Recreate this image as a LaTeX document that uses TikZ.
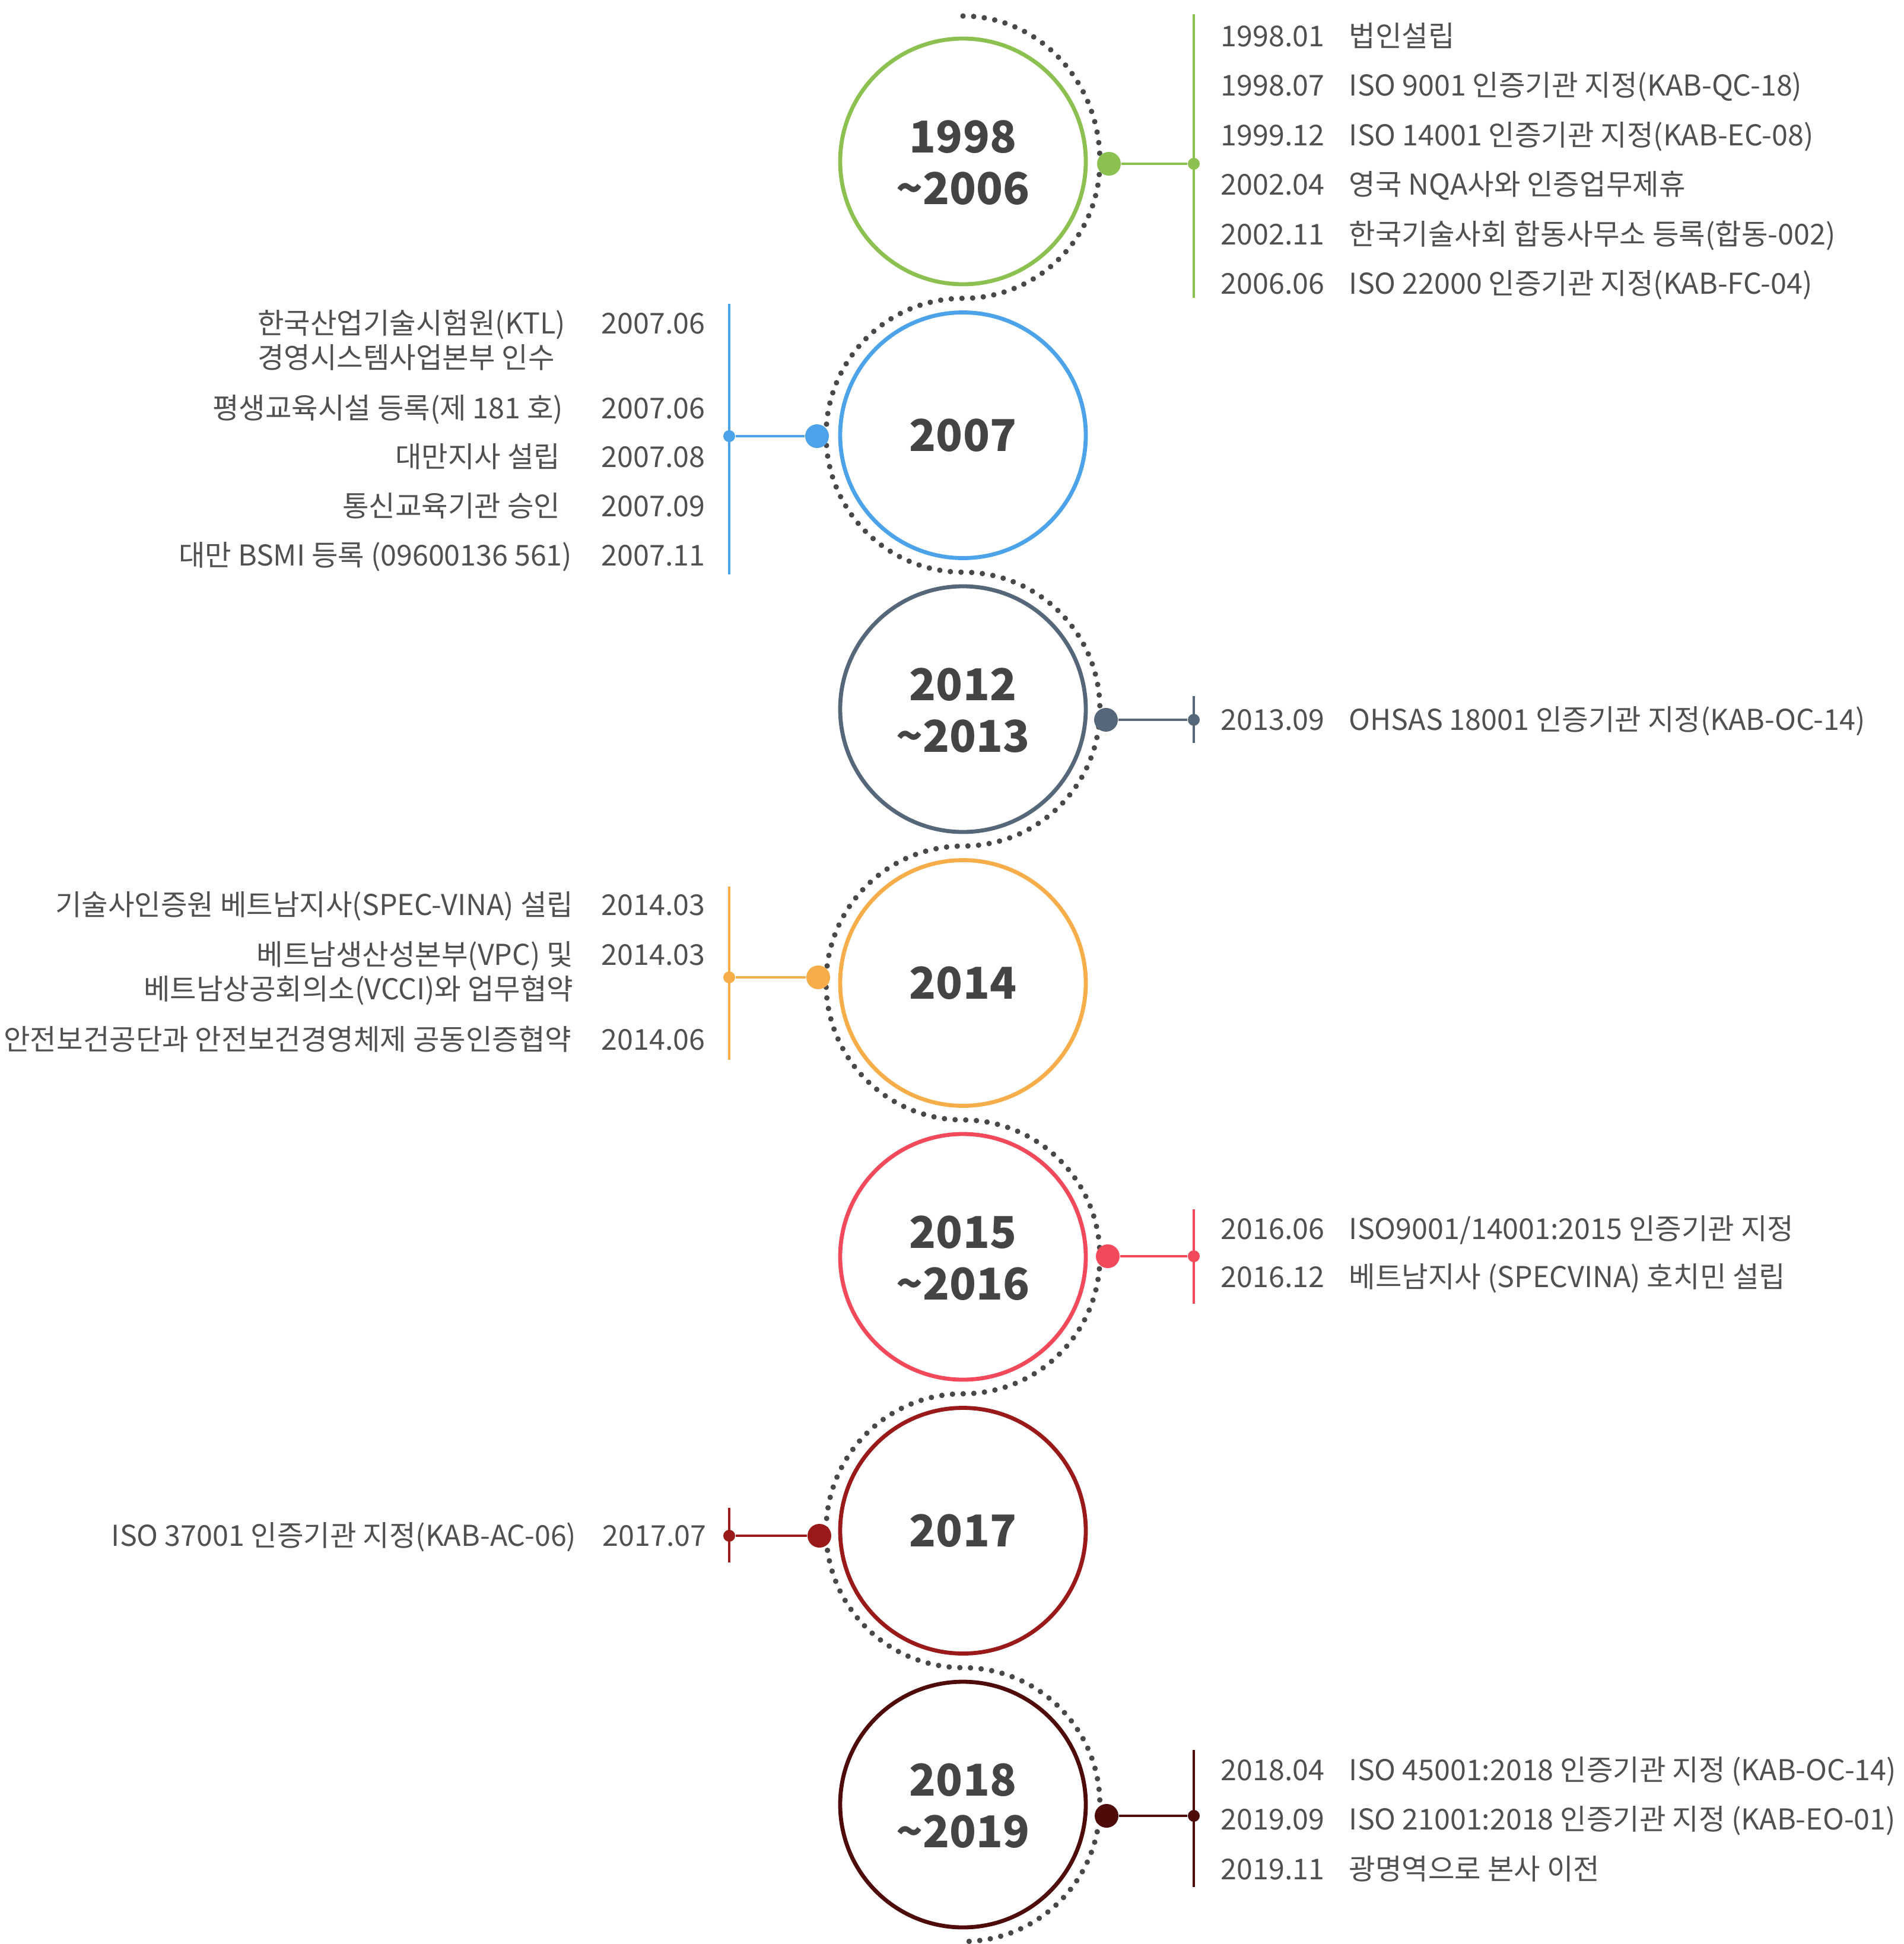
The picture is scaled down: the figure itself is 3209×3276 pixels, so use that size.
\documentclass[tikz,border=0pt]{standalone}
\usepackage{fontspec}
\setmainfont{Noto Sans CJK KR}
\definecolor{cA}{HTML}{8CC152}
\definecolor{cB}{HTML}{4DA3EA}
\definecolor{cC}{HTML}{56677A}
\definecolor{cD}{HTML}{F6AD4A}
\definecolor{cE}{HTML}{F2495B}
\definecolor{cF}{HTML}{9A1A1A}
\definecolor{cG}{HTML}{4F0A0A}
\definecolor{yeartxt}{HTML}{444444}
\definecolor{txtc}{HTML}{505050}
\definecolor{dotc}{HTML}{484848}
\begin{document}
\begin{tikzpicture}[x=0.25pt,y=0.25pt,
  yearc/.style={circle,draw,line width=1.7pt,minimum size=103.5pt,inner sep=0pt},
  yeartext/.style={font=\fontsize{18.5}{21.75}\selectfont\bfseries,text=yeartxt,align=center,inner sep=0pt},
  mdot/.style={circle,inner sep=0pt,minimum size=10pt},
  sdot/.style={circle,inner sep=0pt,minimum size=5pt},
  hconn/.style={line width=1.1pt},
  vline/.style={line width=0.8pt},
  txt/.style={font=\fontsize{12.1}{14}\selectfont,text=txtc,inner sep=0pt,text height=8.9pt,text depth=0pt},
  dl/.style={txt,anchor=west},
  dr/.style={txt,anchor=east},
  dotarc/.style={draw=dotc,line width=2.3pt,dash pattern=on 0pt off 4.5pt,line cap=round}
]
\useasboundingbox (0,0) rectangle (3209,-3276);

% dotted S-path
\draw[dotarc] (1623,-27)
  arc[start angle=90,end angle=0,x radius=57.6875pt,y radius=61.25pt]
  arc[start angle=0,end angle=-90,radius=57.6875pt]
  arc[start angle=90,end angle=270,radius=57.6875pt]
  arc[start angle=90,end angle=-90,radius=57.6875pt]
  arc[start angle=90,end angle=270,radius=57.6875pt]
  arc[start angle=90,end angle=-90,radius=57.6875pt]
  arc[start angle=90,end angle=270,radius=57.6875pt]
  arc[start angle=90,end angle=-90,radius=57.6875pt];

% circles
\node[yearc,draw=cA] (c1) at (1623,-272) {};
\node[yearc,draw=cB] (c2) at (1623,-733.5) {};
\node[yearc,draw=cC] (c3) at (1623,-1195) {};
\node[yearc,draw=cD] (c4) at (1623,-1656.5) {};
\node[yearc,draw=cE] (c5) at (1623,-2118) {};
\node[yearc,draw=cF] (c6) at (1623,-2579.5) {};
\node[yearc,draw=cG] (c7) at (1623,-3041) {};
\node[yeartext] (y1) at ([yshift=-0.5pt]c1.center) {1998\\\textasciitilde2006};
\node[yeartext] (y2) at (c2.center) {2007};
\node[yeartext] (y3) at ([yshift=-0.5pt]c3.center) {2012\\\textasciitilde2013};
\node[yeartext] (y4) at (c4.center) {2014};
\node[yeartext] (y5) at ([yshift=-0.5pt]c5.center) {2015\\\textasciitilde2016};
\node[yeartext] (y6) at (c6.center) {2017};
\node[yeartext] (y7) at ([yshift=-0.5pt]c7.center) {2018\\\textasciitilde2019};

% vertical lines
\coordinate (va1) at (2012,-24);   \coordinate (vb1) at (2012,-502);
\coordinate (va2) at (1229,-512);  \coordinate (vb2) at (1229,-968);
\coordinate (va3) at (2012,-1173); \coordinate (vb3) at (2012,-1252);
\coordinate (va4) at (1229,-1494); \coordinate (vb4) at (1229,-1786);
\coordinate (va5) at (2012,-2038); \coordinate (vb5) at (2012,-2197);
\coordinate (va6) at (1229,-2541); \coordinate (vb6) at (1229,-2633);
\coordinate (va7) at (2012,-2949); \coordinate (vb7) at (2012,-3180);
\draw[vline,cA] (va1) -- (vb1);
\draw[vline,cB] (va2) -- (vb2);
\draw[vline,cC] (va3) -- (vb3);
\draw[vline,cD] (va4) -- (vb4);
\draw[vline,cE] (va5) -- (vb5);
\draw[vline,cF] (va6) -- (vb6);
\draw[vline,cG] (va7) -- (vb7);

% marker dots and small dots
\node[mdot,fill=cA] (m1) at (1869,-276) {};
\node[mdot,fill=cB] (m2) at (1377,-735) {};
\node[mdot,fill=cC] (m3) at (1864,-1213) {};
\node[mdot,fill=cD] (m4) at (1379,-1647) {};
\node[mdot,fill=cE] (m5) at (1867,-2117) {};
\node[mdot,fill=cF] (m6) at (1381,-2588) {};
\node[mdot,fill=cG] (m7) at (1865,-3060) {};
\node[sdot,fill=cA] (s1) at (2012,-276) {};
\node[sdot,fill=cB] (s2) at (1229,-735) {};
\node[sdot,fill=cC] (s3) at (2012,-1213) {};
\node[sdot,fill=cD] (s4) at (1229,-1647) {};
\node[sdot,fill=cE] (s5) at (2012,-2117) {};
\node[sdot,fill=cF] (s6) at (1229,-2588) {};
\node[sdot,fill=cG] (s7) at (2012,-3060) {};
\draw[hconn,cA] (m1) -- (s1);
\draw[hconn,cB] (m2) -- (s2);
\draw[hconn,cC] (m3) -- (s3);
\draw[hconn,cD] (m4) -- (s4);
\draw[hconn,cE] (m5) -- (s5);
\draw[hconn,cF] (m6) -- (s6);
\draw[hconn,cG] (m7) -- (s7);

% circle 1 texts
\node[dl] (d1a) at (2057,-61)  {1998.01};
\node[dl] (t1a) at (2273,-61)  {법인설립};
\node[dl] (d1b) at (2057,-144) {1998.07};
\node[dl] (t1b) at (2273,-144) {ISO 9001 인증기관 지정(KAB-QC-18)};
\node[dl] (d1c) at (2057,-228) {1999.12};
\node[dl] (t1c) at (2273,-228) {ISO 14001 인증기관 지정(KAB-EC-08)};
\node[dl] (d1d) at (2057,-311) {2002.04};
\node[dl] (t1d) at (2273,-311) {영국 NQA사와 인증업무제휴};
\node[dl] (d1e) at (2057,-395) {2002.11};
\node[dl] (t1e) at (2273,-395) {한국기술사회 합동사무소 등록(합동-002)};
\node[dl] (d1f) at (2057,-478) {2006.06};
\node[dl] (t1f) at (2273,-478) {ISO 22000 인증기관 지정(KAB-FC-04)};

% circle 2 texts
\node[dr] (t2a) at (954,-545) {한국산업기술시험원(KTL)};
\coordinate (y2b) at (0,-603);
\node[dl] (t2b) at (t2a.west |- y2b) {경영시스템사업본부 인수};
\node[dl] (d2a) at (1013,-545) {2007.06};
\node[dr] (t2c) at (950,-688) {평생교육시설 등록(제 181 호)};
\node[dl] (d2c) at (1013,-688) {2007.06};
\node[dr] (t2d) at (945,-770) {대만지사 설립};
\node[dl] (d2d) at (1013,-770) {2007.08};
\node[dr] (t2e) at (945,-853) {통신교육기관 승인};
\node[dl] (d2e) at (1013,-853) {2007.09};
\node[dr] (t2f) at (965,-936) {대만 BSMI 등록 (09600136 561)};
\node[dl] (d2f) at (1013,-936) {2007.11};

% circle 3 texts
\node[dl] (d3a) at (2057,-1213) {2013.09};
\node[dl] (t3a) at (2273,-1213) {OHSAS 18001 인증기관 지정(KAB-OC-14)};

% circle 4 texts
\node[dr] (t4a) at (967,-1525) {기술사인증원 베트남지사(SPEC-VINA) 설립};
\node[dl] (d4a) at (1013,-1525) {2014.03};
\node[dr] (t4b) at (967,-1609) {베트남생산성본부(VPC) 및};
\node[dr] (t4c) at (967,-1667) {베트남상공회의소(VCCI)와 업무협약};
\node[dl] (d4b) at (1013,-1609) {2014.03};
\node[dr] (t4d) at (964,-1752) {안전보건공단과 안전보건경영체제 공동인증협약};
\node[dl] (d4d) at (1013,-1752) {2014.06};

% circle 5 texts
\node[dl] (d5a) at (2057,-2071) {2016.06};
\node[dl] (t5a) at (2273,-2071) {ISO9001/14001:2015 인증기관 지정};
\node[dl] (d5b) at (2057,-2152) {2016.12};
\node[dl] (t5b) at (2273,-2152) {베트남지사 (SPECVINA) 호치민 설립};

% circle 6 texts
\node[dr] (t6a) at (972,-2588) {ISO 37001 인증기관 지정(KAB-AC-06)};
\node[dl] (d6a) at (1015,-2588) {2017.07};

% circle 7 texts
\node[dl] (d7a) at (2057,-2983) {2018.04};
\node[dl] (t7a) at (2273,-2983) {ISO 45001:2018 인증기관 지정 (KAB-OC-14)};
\node[dl] (d7b) at (2057,-3066) {2019.09};
\node[dl] (t7b) at (2273,-3066) {ISO 21001:2018 인증기관 지정 (KAB-EO-01)};
\node[dl] (d7c) at (2057,-3150) {2019.11};
\node[dl] (t7c) at (2273,-3150) {광명역으로 본사 이전};
\end{tikzpicture}
\end{document}
